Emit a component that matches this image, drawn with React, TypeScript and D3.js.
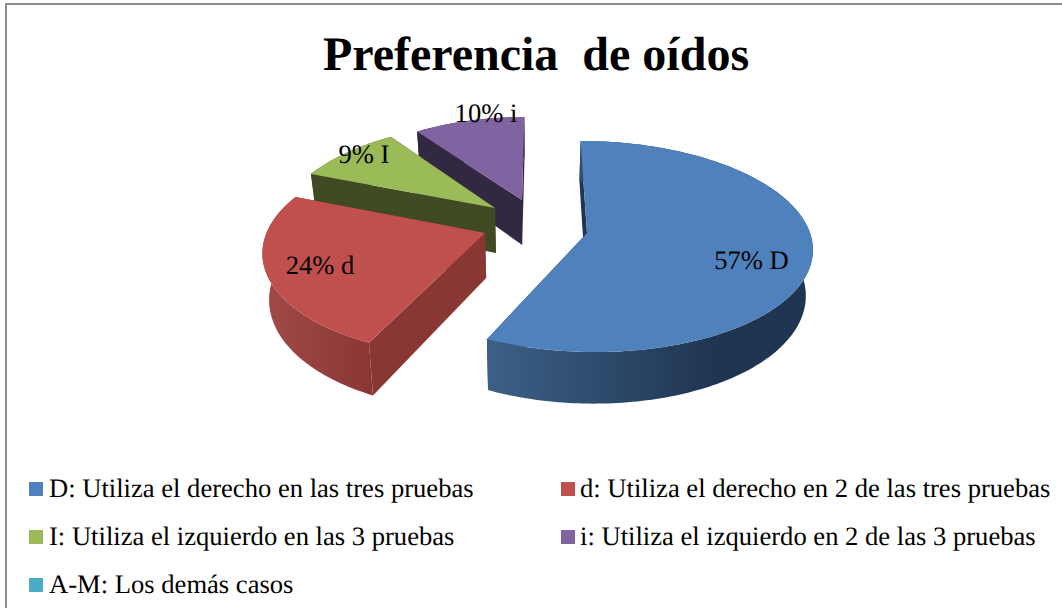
import React from "react";
import * as d3 from "d3";

const categories = ["D", "d", "I", "i", "A-M"];
const values = [57, 24, 9, 10, 0];
const legendLabels = [
  "D: Utiliza el derecho en las tres pruebas",
  "d: Utiliza el derecho en 2 de las tres pruebas",
  "I: Utiliza el izquierdo en las 3 pruebas",
  "i: Utiliza el izquierdo en 2 de las 3 pruebas",
  "A-M: Los demás casos",
];
const dataLabels = ["57% D", "24% d", "9% I", "10% i", ""];
const topColors = ["#4f81bd", "#c0504d", "#9bbb59", "#8064a2", "#4bacc6"];
const titleText = "Preferencia  de oídos";

const W = 1062;
const H = 608;
const RX = 223;
const RY = 103.8;
const VX = 531;
const DEPTH = 45;
const BOTTOM_SHRINK = 0.975;

// slice layout: apex on screen and per-slice perspective (exploded slices sit at different distances)
const apexes: [number, number][] = [[587, 233], [485, 233], [495, 208], [522, 200], [522, 200]];
const radiusScale = [1, 1, 0.93, 0.89, 0.89];
const widthScale = [1, 0.98, 1.02, 1, 1];
const perspective = [0.128, 0.16, 0.128, 0.128, 0.128];
const vanishX = [531, 528, 600, 545, 545];
const labelPos: [number, number][] = [[751.5, 269], [320, 274], [364, 163], [486, 122], [0, 0]];
const wallDark = ["#1f3551", "#893735", "#404a23", "#332842", "#2a6070"];
const wallLight = ["#3c6087", "#a24a47", "#404a23", "#332842", "#2a6070"];

const pie = d3.pie<number>().sort(null).startAngle(0).endAngle(2 * Math.PI);
const arcs = pie(values);

function project(i: number, a: number, r: number, bottom: boolean): [number, number] {
  const [ax, ay] = apexes[i];
  const X = Math.sin(a) * r * radiusScale[i] * widthScale[i];
  const Y = -Math.cos(a) * r * radiusScale[i];
  const s = 1 / (1 - perspective[i] * Y);
  const v = vanishX[i];
  let x = v + (ax - v + X * RX) * s;
  let y = ay + Y * RY * s;
  if (bottom) {
    x = VX + (x - VX) * BOTTOM_SHRINK;
    y += DEPTH * s;
  }
  return [x, y];
}

const line = d3.line<[number, number]>().x((d) => d[0]).y((d) => d[1]);

function arcAngles(a0: number, a1: number): number[] {
  const n = Math.max(2, Math.ceil((a1 - a0) / 0.02));
  return d3.range(n + 1).map((k) => a0 + ((a1 - a0) * k) / n);
}

function topPath(i: number): string {
  const { startAngle, endAngle } = arcs[i];
  const pts = arcAngles(startAngle, endAngle).map((a) => project(i, a, 1, false));
  return line([project(i, 0, 0, false), ...pts])! + "Z";
}
function radialWall(i: number, a: number): string {
  return line([
    project(i, a, 0, false),
    project(i, a, 1, false),
    project(i, a, 1, true),
    project(i, a, 0, true),
  ])! + "Z";
}
function outerWall(i: number): string {
  const ang = arcAngles(arcs[i].startAngle, arcs[i].endAngle);
  const t = ang.map((a) => project(i, a, 1, false));
  const b = ang.map((a) => project(i, a, 1, true)).reverse();
  return line([...t, ...b])! + "Z";
}

const order = [3, 2, 1, 0];

const legendX = d3.scalePoint<number>().domain([0, 1]).range([30, 562]);
const legendY = d3.scalePoint<number>().domain([0, 1, 2]).range([489, 585]);

export default function App() {
  return (
    <svg
      width={W}
      height={H}
      style={{ position: "absolute", left: 0, top: 0, fontFamily: "'Liberation Serif', serif", textRendering: "geometricPrecision" }}
    >
      <defs>
        {[0, 1].map((i) => {
          const xs = arcAngles(arcs[i].startAngle, arcs[i].endAngle).map((a) => project(i, a, 1, false)[0]);
          return (
            <linearGradient
              key={i}
              id={`wall${i}`}
              gradientUnits="userSpaceOnUse"
              x1={d3.min(xs)}
              x2={i === 0 ? d3.min(xs)! + 230 : d3.max(xs)}
              y1={0}
              y2={0}
            >
              <stop offset="0%" stopColor={wallLight[i]} />
              <stop offset="100%" stopColor={wallDark[i]} />
            </linearGradient>
          );
        })}
      </defs>
      <rect x={0} y={0} width={W} height={H} fill="#fff" />
      <rect x={6} y={4} width={1062} height={640} fill="#fff" stroke="#8c8c8c" strokeWidth={2} />
      <text x={536} y={70} textAnchor="middle" fontSize={48} fontWeight="bold" style={{ whiteSpace: "pre" }}>
        {titleText}
      </text>
      {order.map((i) => (
        <g key={categories[i]}>
          <path d={radialWall(i, arcs[i].startAngle)} fill={wallDark[i]} />
          <path d={radialWall(i, arcs[i].endAngle)} fill={wallDark[i]} />
          <path d={outerWall(i)} fill={i < 2 ? `url(#wall${i})` : wallDark[i]} />
          <path d={topPath(i)} fill={topColors[i]} />
        </g>
      ))}
      {dataLabels.map((t, i) =>
        t ? (
          <text key={t} x={labelPos[i][0]} y={labelPos[i][1]} textAnchor="middle" fontSize={26.6} fill="#000" style={{ whiteSpace: "pre" }}>
            {t}
          </text>
        ) : null
      )}
      {legendLabels.map((t, i) => {
        const x = legendX(i % 2)!;
        const y = legendY(Math.floor(i / 2))!;
        return (
          <g key={t}>
            <rect x={x - 1} y={y - 7} width={14} height={14} fill={topColors[i]} />
            <text x={x + 19 - (i % 2)} y={y + 8} fontSize={26.6} fill="#000">
              {t}
            </text>
          </g>
        );
      })}
    </svg>
  );
}
